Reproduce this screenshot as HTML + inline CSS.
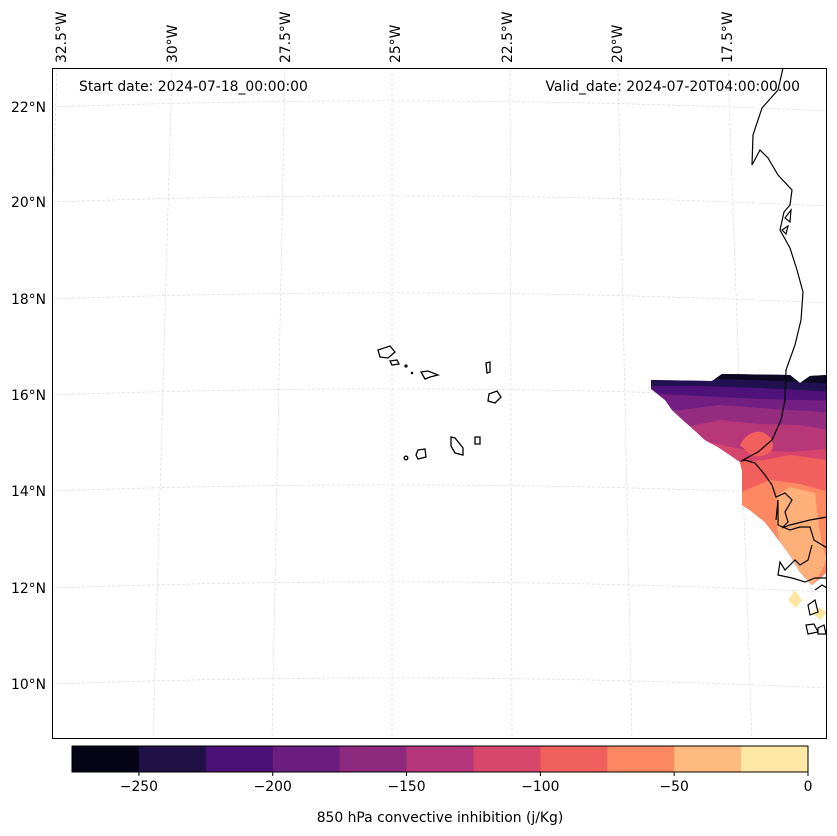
<!DOCTYPE html>
<html><head><meta charset="utf-8"><style>
body{margin:0;background:#fff;}
svg{display:block;font-family:"DejaVu Sans","Liberation Sans",sans-serif;}
</style></head><body>
<svg id="chart" width="837" height="836" viewBox="0 0 837 836" xmlns="http://www.w3.org/2000/svg">
<defs>
<clipPath id="mapclip"><rect x="52" y="68" width="775" height="671"/></clipPath>
<clipPath id="regionclip"><path d="M651,380 L651,389 L665,400 L672,410 L685,422 L692,428 L705,440 L718,447 L730,455 L740,462 L742,470 L742,505 L750,510 L765,522 L775,535 L790,555 L800,572 L812,585 L827,572 L827,375 L810,376 L800,383 L790,375 L722,374 L712,381 Z"/></clipPath>
</defs>
<g id="gridlines" clip-path="url(#mapclip)" stroke="#d4d4d4" stroke-width="0.6" stroke-dasharray="3,2" fill="none"></g>
<g id="field" clip-path="url(#regionclip)">
<rect x="640" y="360" width="200" height="240" fill="#4f127b"/>
<path d="M640,360 L840,360 L840,392 L760,388 L700,386 L640,386 Z" fill="#221150"/>
<path d="M640,360 L840,360 L840,384 L780,381 L720,379 L640,379 Z" fill="#0a0822"/>
<path d="M640,393 L700,396 L760,399 L840,401 L840,600 L640,600 Z" fill="#721f81"/>
<path d="M640,412 L680,410 L720,405 L760,408 L840,413 L840,600 L640,600 Z" fill="#942c80"/>
<path d="M640,430 L690,426 L720,420 L760,424 L800,425 L840,432 L840,600 L640,600 Z" fill="#b73779"/>
<path d="M640,440 L700,440 L735,448 L750,450 L790,452 L840,448 L840,600 L640,600 Z" fill="#d8456c"/>
<path d="M740,445 Q748,430 762,432 Q776,438 772,450 Q765,458 752,456 Z" fill="#f1605d"/>
<path d="M640,465 L740,462 L765,460 L790,455 L840,462 L840,600 L640,600 Z" fill="#f1605d"/>
<path d="M640,497 L742,492 L770,480 L800,484 L840,495 L840,600 L640,600 Z" fill="#fc8961"/>
<path d="M776,520 L778,495 L790,487 L815,493 L818,520 L822,545 L827,560 L812,588 L795,565 L780,545 Z" fill="#feb078"/>
</g>
<path d="M788,600 L795,590 L802,600 L796,608 Z M812,612 L820,608 L827,612 L820,620 Z" fill="#fde7a0"/>
<g id="coast" clip-path="url(#mapclip)" fill="none" stroke="#000" stroke-width="1.2">
<path d="M783,68 L778,90 L762,108 L753,135 L752,165 L760,150 L768,158 L778,175 L792,190 L790,205 L784,212 L780,230 L790,248 L797,270 L803,292 L801,320 L795,345 L786,370 L785,400 L781,420 L772,440 L758,452 L741,461 L745,460 L755,463 L765,475 L772,485 L776,497 L785,493 L792,500 L785,512 L788,522 L782,528 L790,525 L810,520 L827,517"/>
<path d="M776,520 L778,500 L778,525 L790,530 L800,527 L810,527 L814,540 L827,548 M812,545 L808,560 L800,565 L795,560 L785,570 L780,562 L778,575 L792,578 L805,582 L815,578 L827,578"/>
<path d="M815,590 L822,585 L827,588 M808,605 L815,600 L818,612 L810,615 Z M806,625 L814,624 L818,632 L808,634 Z M818,628 L824,625 L826,634 L818,634 Z"/>
<path d="M785,218 L791,210 L790,222 Z M782,230 L788,226 L786,234 Z"/>
</g>
<g fill="none" stroke="#000" stroke-width="1.3">
<path d="M378,350 L390,346 L395,352 L388,358 L380,357 Z"/>
<path d="M390,361 L397,360 L399,364 L392,365 Z"/>
<circle cx="406" cy="366" r="1"/><circle cx="412" cy="373" r="0.6"/>
<path d="M421,372 L428,371 L438,375 L430,377 L425,379 Z"/>
<path d="M486,363 L490,362 L490,372 L487,373 Z"/>
<path d="M489,394 L497,391 L501,397 L495,403 L488,401 Z"/>
<path d="M451,437 L455,438 L463,448 L463,455 L455,453 L451,446 Z"/>
<path d="M475,437 L480,437 L480,444 L475,444 Z"/>
<path d="M418,450 L425,449 L426,457 L418,459 L416,455 Z"/>
<circle cx="406" cy="458" r="1.8"/>
</g>
<rect x="52.5" y="68.5" width="774" height="670" fill="none" stroke="#000" stroke-width="1"/>
<g id="lonlabels" font-size="13.9" fill="#000"></g>
<g id="latlabels" font-size="13.9" fill="#000"></g>
<text x="79" y="91" font-size="13.9">Start date: 2024-07-18_00:00:00</text>
<text x="800" y="91" font-size="13.9" text-anchor="end">Valid_date: 2024-07-20T04:00:00.00</text>
<g id="colorbar"></g>
<text x="440" y="822" font-size="13.9" text-anchor="middle">850 hPa convective inhibition (j/Kg)</text>
</svg>
<script>
const levels = [-275,-250,-225,-200,-175,-150,-125,-100,-75,-50,-25,0];
const binColors = ["#050416","#1f1045","#4a1075","#6b1d80","#8e2a7e","#b5367a","#d7466b","#f0605d","#fb8861","#febb80","#fde8a5"];
const tickValues = [-250,-200,-150,-100,-50,0];
const tickLabels = ["\u2212250","\u2212200","\u2212150","\u2212100","\u221250","0"];
const lonLabels = ["32.5\u00b0W","30\u00b0W","27.5\u00b0W","25\u00b0W","22.5\u00b0W","20\u00b0W","17.5\u00b0W"];
const latLabels = ["22\u00b0N","20\u00b0N","18\u00b0N","16\u00b0N","14\u00b0N","12\u00b0N","10\u00b0N"];
const NS="http://www.w3.org/2000/svg";
function mk(tag,attrs,parent){const e=document.createElementNS(NS,tag);for(const k in attrs)e.setAttribute(k,attrs[k]);parent.appendChild(e);return e;}
const cb=document.getElementById('colorbar');
const cx0=72,cx1=808,cy=746,ch=26;
const xs=v=>cx0+(v-levels[0])/(levels[levels.length-1]-levels[0])*(cx1-cx0);
for(let i=0;i<binColors.length;i++){
 const r=mk('rect',{x:xs(levels[i]),y:cy,width:xs(levels[i+1])-xs(levels[i])+0.5,height:ch,fill:binColors[i]},cb);
 
 
}
mk('rect',{x:cx0,y:cy,width:cx1-cx0,height:ch,fill:'none',stroke:'#000','stroke-width':1},cb);
tickValues.forEach((v,i)=>{
 const x=xs(v);
 mk('line',{x1:x,x2:x,y1:cy+ch,y2:cy+ch+4,stroke:'#000'},cb);
 const t=mk('text',{x:x,y:cy+ch+19,'font-size':13.9,'text-anchor':'middle'},cb);
 t.textContent=tickLabels[i];
 
 
});
const g=document.getElementById('gridlines');
const lonTop=[57,172,285,392,510,618,728], lonBot=[35,153,272,392,512,632,752];
lonTop.forEach((x,i)=>mk('line',{x1:x,y1:68,x2:lonBot[i],y2:739},g));
const latY=[107,202,299,395,491,588,684];
latY.forEach(y=>mk('path',{d:`M52,${y} Q440,${y-14} 827,${y+4}`},g));
const ll=document.getElementById('lonlabels');
const lonLX=[66,177,290,400,512,622,732];
lonLabels.forEach((s,i)=>{
 const t=mk('text',{transform:`translate(${lonLX[i]},63) rotate(-90)`},ll);
 t.textContent=s;
 
 
});
const la=document.getElementById('latlabels');
latLabels.forEach((s,i)=>{
 const t=mk('text',{x:46,y:latY[i]+5,'text-anchor':'end'},la);
 t.textContent=s;
 
 
});
</script>
</body></html>
